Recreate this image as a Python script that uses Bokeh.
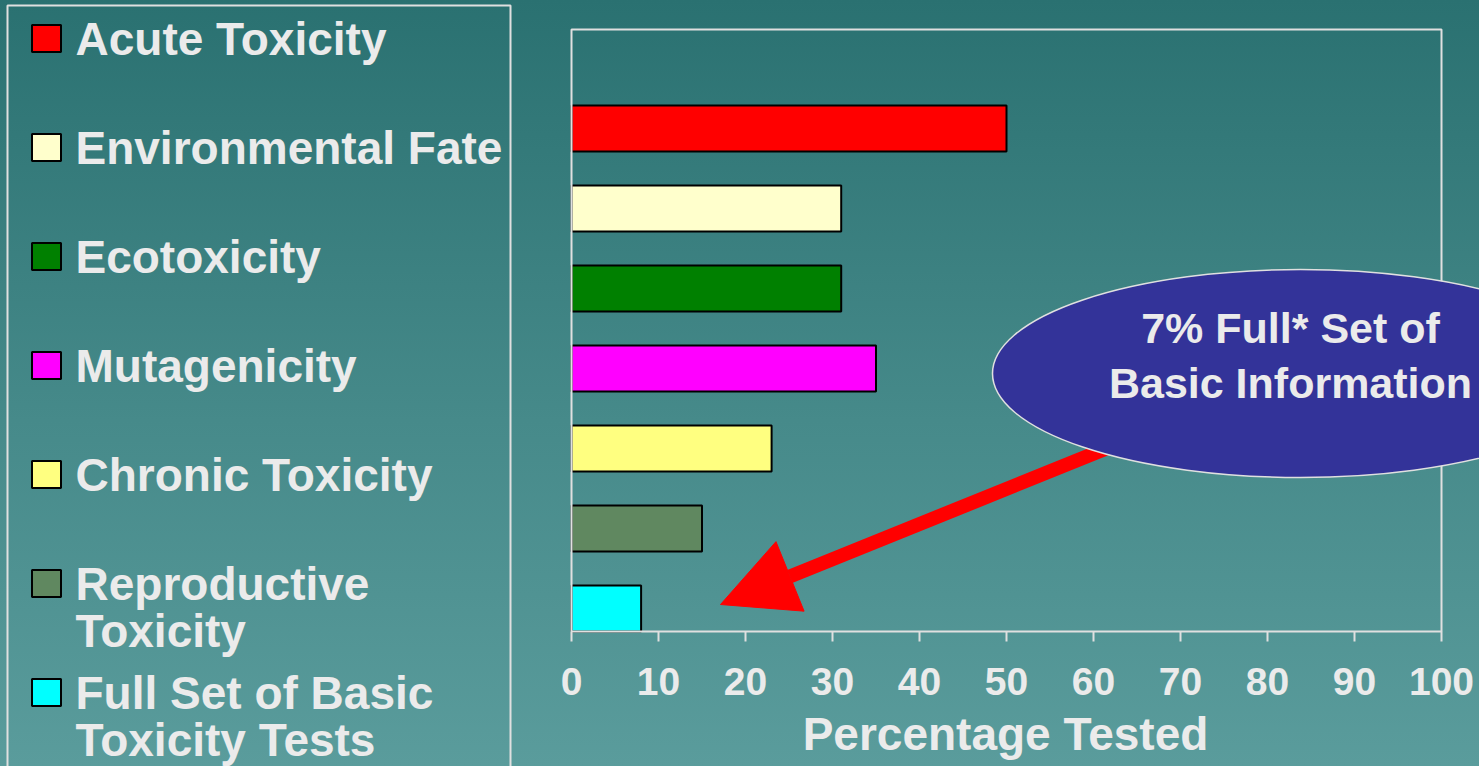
from bokeh.plotting import figure
from bokeh.models import Range1d, FixedTicker, Arrow, NormalHead
from bokeh.core.properties import value
from bokeh.embed import file_html
from bokeh.resources import INLINE

# ---- data ----
categories = ["Acute Toxicity", "Environmental Fate", "Ecotoxicity", "Mutagenicity",
              "Chronic Toxicity", "Reproductive\nToxicity", "Full Set of Basic\nToxicity Tests"]
percent_tested = [50, 31, 31, 35, 23, 15, 8]
bar_colors = ["#ff0000", "#ffffcc", "#008000", "#ff00ff", "#ffff80", "#608860", "#00ffff"]
x_ticks = [0, 10, 20, 30, 40, 50, 60, 70, 80, 90, 100]
callout_lines = ["7% Full* Set of", "Basic Information"]
axis_title = "Percentage Tested"

FONT = value("Liberation Sans")
TXT = "#ebebeb"
LINE = "#e0e0e0"
GRAD = {"background": "linear-gradient(to bottom, #2a7171 0%, #468a8a 55%, #5a9c9c 100%)"}

W, H = 1479, 766
X0, PX = 571, 8.7       # pixel of 0 %, pixels per percent
Y1, PY = 608, 80        # pixel of first category slot, pixels per slot


def sx(px):  # layout pixel -> data x
    return (px - X0) / PX


def sy(py):  # layout pixel -> data y
    return 1 + (Y1 - py) / PY


p = figure(width=W, height=H, x_range=Range1d(sx(0), sx(W)), y_range=Range1d(sy(H), sy(0)),
           output_backend="svg", toolbar_location=None,
           x_axis_location="below", y_axis_location=None,
           min_border_left=0, min_border_right=0, min_border_top=0, min_border_bottom=0)
p.grid.visible = False
p.outline_line_color = None
p.background_fill_color = None
p.border_fill_color = None
p.styles = GRAD

n = len(categories)

# ---- bars ----
ypos = [n - i for i in range(n)]
p.hbar(y=ypos, left=0, right=percent_tested, height=46 / PY, fill_color=bar_colors,
       line_color="black", line_width=2)

# plot-area box
p.quad(left=[0], right=[100], bottom=[sy(631)], top=[sy(29)],
       fill_color=None, line_color=LINE, line_width=2)

# x axis fixed at the bar baseline
ax = p.xaxis[0]
ax.fixed_location = sy(631)
ax.ticker = FixedTicker(ticks=x_ticks)
ax.axis_line_color = None
ax.major_tick_in = 0
ax.major_tick_out = 10
ax.major_tick_line_color = LINE
ax.major_tick_line_width = 2
ax.minor_tick_line_color = None
ax.major_label_text_font = "Liberation Sans"
ax.major_label_text_font_style = "bold"
ax.major_label_text_font_size = "39px"
ax.major_label_text_color = TXT
ax.major_label_standoff = 26

p.text(x=[sx(1005)], y=[sy(733)], text=[axis_title], text_align="center", text_baseline="middle",
       text_font=FONT, text_font_style="bold", text_font_size="46px", text_color=TXT)

# ---- legend panel ----
p.quad(left=[sx(7)], right=[sx(510)], top=[sy(5)], bottom=[sy(H + 20)], fill_color=None,
       line_color=LINE, line_width=2)
item_py = [38 + 109 * i for i in range(n)]
p.rect(x=[sx(46)] * n, y=[sy(v) for v in item_py], width=29, height=27,
       width_units="screen", height_units="screen", fill_color=bar_colors,
       line_color="black", line_width=2)
first_lines = [c.split("\n")[0] for c in categories]
second = [(c.split("\n")[1], v + 47) for c, v in zip(categories, item_py) if "\n" in c]
p.text(x=[sx(75)] * n, y=[sy(v) for v in item_py], text=first_lines, text_font=FONT,
       text_font_style="bold", text_font_size="46px", text_color=TXT,
       text_baseline="middle", text_align="left")
p.text(x=[sx(75)] * len(second), y=[sy(s[1]) for s in second], text=[s[0] for s in second],
       text_font=FONT, text_font_style="bold", text_font_size="46px", text_color=TXT,
       text_baseline="middle", text_align="left")

# ---- arrow (under the ellipse) ----
arrow = Arrow(end=NormalHead(size=75, fill_color="#ff0000", line_color="#ff0000"),
              x_start=sx(1200), y_start=sy(410), x_end=sx(720), y_end=sy(604),
              line_color="#ff0000", line_width=14, level="underlay")
p.add_layout(arrow)

# ---- callout ellipse ----
p.ellipse(x=[sx(1300)], y=[sy(373)], width=616 / PX, height=208 / PY,
          fill_color="#333399", line_color=LINE, line_width=1.5)
p.text(x=[sx(1290)] * 2, y=[sy(327), sy(382)], text=callout_lines, text_font=FONT,
       text_font_style="bold", text_font_size="43px", text_color=TXT,
       text_align="center", text_baseline="middle")

open("out.html", "w").write(file_html(p, INLINE))
